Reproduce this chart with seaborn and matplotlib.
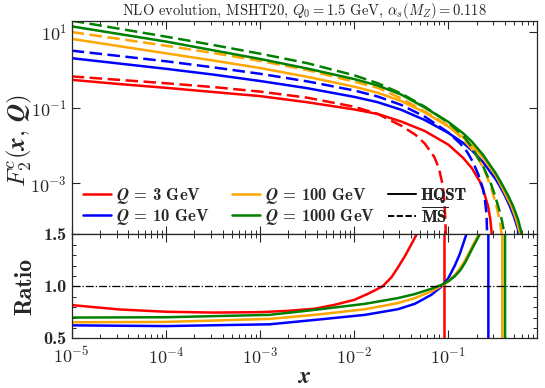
import pandas as pd
import matplotlib
matplotlib.use("Agg")
import matplotlib.pyplot as plt
import seaborn as sns
from matplotlib.lines import Line2D
from matplotlib.ticker import FixedLocator, FixedFormatter, MultipleLocator, LogLocator, NullLocator

# ---- top panel: F2c(x, Q), HQST (solid) vs MSbar (dashed)
x_grid = [1e-5, 3.16e-5, 1e-4, 3.16e-4, 1e-3, 3.16e-3, 0.01, 0.0178, 0.0316, 0.0562, 0.1]

x_q3_hqst = x_grid + [0.1435, 0.178, 0.216, 0.240, 0.264, 0.279, 0.288, 0.295]
f2_q3_hqst = [0.537, 0.417, 0.331, 0.257, 0.200, 0.138, 0.0891, 0.0676, 0.0427, 0.0240, 0.0105,
              4.7e-3, 2.5e-3, 1.12e-3, 5.6e-4, 2.5e-4, 1.12e-4, 5.0e-5, 1e-6]
x_q3_msbar = x_grid[:9] + [0.0447, 0.0562, 0.0708, 0.0794, 0.0871, 0.0902, 0.0923, 0.0938, 0.0951]
f2_q3_msbar = [0.661, 0.537, 0.437, 0.347, 0.263, 0.182, 0.105, 0.0676, 0.0331,
               0.0191, 0.0112, 5.0e-3, 2.5e-3, 8.9e-4, 4.0e-4, 1.58e-4, 5.0e-5, 1e-6]

x_q10_hqst = x_grid + [0.1435, 0.178, 0.234, 0.316, 0.352, 0.398, 0.45, 0.501, 0.55, 0.575]
f2_q10_hqst = [2.0, 1.45, 1.05, 0.741, 0.501, 0.324, 0.191, 0.138, 0.0871, 0.0468, 0.0214,
               0.0117, 7.4e-3, 3.6e-3, 1.32e-3, 8.5e-4, 4.8e-4, 2.5e-4, 1.26e-4, 6.0e-5, 1e-6]
x_q10_msbar = x_grid + [0.1324, 0.158, 0.184, 0.209, 0.234, 0.245, 0.254, 0.258, 0.261]
f2_q10_msbar = [3.16, 2.29, 1.66, 1.15, 0.776, 0.490, 0.282, 0.195, 0.117, 0.0575, 0.0219,
                0.0115, 6.8e-3, 3.5e-3, 1.66e-3, 7.1e-4, 3.5e-4, 1.58e-4, 5.0e-5, 1e-6]

x_q100_hqst = x_grid + [0.1435, 0.178, 0.234, 0.316, 0.352, 0.407, 0.468, 0.525, 0.574, 0.603]
f2_q100_hqst = [6.46, 4.17, 2.69, 1.74, 1.10, 0.646, 0.355, 0.245, 0.148, 0.0741, 0.0316,
                0.0162, 0.0100, 4.7e-3, 1.66e-3, 1.02e-3, 5.0e-4, 2.5e-4, 1.12e-4, 5.0e-5, 1e-6]
x_q100_msbar = x_grid + [0.1435, 0.178, 0.216, 0.251, 0.287, 0.316, 0.338, 0.355, 0.366, 0.372]
f2_q100_msbar = [9.77, 6.46, 4.27, 2.75, 1.70, 0.977, 0.479, 0.331, 0.174, 0.0794, 0.0331,
                 0.0145, 7.9e-3, 3.8e-3, 1.78e-3, 7.1e-4, 3.2e-4, 1.58e-4, 8.9e-5, 5.0e-5, 1e-6]

x_q1000_hqst = x_grid + [0.1435, 0.178, 0.234, 0.316, 0.366, 0.427, 0.488, 0.55, 0.597, 0.631]
f2_q1000_hqst = [13.8, 8.71, 5.50, 3.24, 1.91, 1.07, 0.562, 0.380, 0.219, 0.100, 0.0417,
                 0.0209, 0.0126, 5.6e-3, 1.9e-3, 1.02e-3, 5.0e-4, 2.5e-4, 1.12e-4, 5.0e-5, 1e-6]
x_q1000_msbar = x_grid + [0.1435, 0.178, 0.234, 0.282, 0.311, 0.347, 0.372, 0.398, 0.407]
f2_q1000_msbar = [19.5, 12.0, 7.41, 4.47, 2.63, 1.48, 0.708, 0.437, 0.234, 0.105, 0.0398,
                  0.0182, 8.9e-3, 2.8e-3, 1.0e-3, 5.0e-4, 2.0e-4, 1.0e-4, 4.0e-5, 1e-6]

# ---- bottom panel: ratio HQST / MSbar
x_ratio_q3 = [1e-5, 2e-5, 3.2e-5, 1e-4, 3.2e-4, 1e-3, 2e-3, 3.8e-3, 6e-3, 0.01, 0.0141, 0.02,
              0.025, 0.0295, 0.035, 0.041, 0.046, 0.05, 0.0905, 0.0915]
ratio_q3 = [0.82, 0.795, 0.778, 0.756, 0.748, 0.752, 0.765, 0.785, 0.82, 0.87, 0.93, 1.0,
            1.09, 1.19, 1.30, 1.415, 1.5, 1.58, 40, -40]
x_ratio_q10 = [1e-5, 1e-4, 1.26e-3, 3.8e-3, 0.013, 0.029, 0.044, 0.066, 0.085, 0.1, 0.117,
               0.132, 0.145, 0.155, 0.17, 0.265, 0.267]
ratio_q10 = [0.625, 0.618, 0.635, 0.677, 0.726, 0.78, 0.832, 0.919, 1.0, 1.08, 1.2,
             1.31, 1.42, 1.5, 1.7, 40, -40]
x_ratio_q100 = [1e-5, 1e-4, 1.26e-3, 3.8e-3, 0.013, 0.029, 0.044, 0.066, 0.085, 0.1, 0.117,
                0.132, 0.15, 0.165, 0.183, 0.21, 0.23, 0.373, 0.375]
ratio_q100 = [0.655, 0.658, 0.687, 0.726, 0.78, 0.839, 0.887, 0.952, 1.006, 1.05, 1.11,
              1.17, 1.25, 1.32, 1.40, 1.5, 1.6, 40, -40]
x_ratio_q1000 = [1e-5, 1e-4, 1.26e-3, 3.8e-3, 0.013, 0.029, 0.044, 0.066, 0.085, 0.1, 0.117,
                 0.135, 0.15, 0.165, 0.183, 0.215, 0.235, 0.399, 0.401]
ratio_q1000 = [0.70, 0.703, 0.726, 0.774, 0.832, 0.887, 0.926, 0.977, 1.016, 1.05, 1.097,
               1.16, 1.226, 1.30, 1.38, 1.5, 1.6, 40, -40]

q_labels = ["3", "10", "100", "1000"]
q_colors = ["red", "blue", "orange", "green"]
x_ticks = [1e-5, 1e-4, 1e-3, 1e-2, 1e-1]
x_tick_labels = [r"$\mathbf{10^{-5}}$", r"$\mathbf{10^{-4}}$", r"$\mathbf{10^{-3}}$",
                 r"$\mathbf{10^{-2}}$", r"$\mathbf{10^{-1}}$"]
y_ticks_top = [1e-3, 1e-1, 1e1]
y_tick_labels_top = [r"$\mathbf{10^{-3}}$", r"$\mathbf{10^{-1}}$", r"$\mathbf{10^{1}}$"]
y_ticks_ratio = [0.5, 1.0, 1.5]
y_tick_labels_ratio = ["0.5", "1.0", "1.5"]

# long-form tables for seaborn
curves = [
    ("3", "HQST", x_q3_hqst, f2_q3_hqst), ("3", "MSbar", x_q3_msbar, f2_q3_msbar),
    ("10", "HQST", x_q10_hqst, f2_q10_hqst), ("10", "MSbar", x_q10_msbar, f2_q10_msbar),
    ("100", "HQST", x_q100_hqst, f2_q100_hqst), ("100", "MSbar", x_q100_msbar, f2_q100_msbar),
    ("1000", "HQST", x_q1000_hqst, f2_q1000_hqst), ("1000", "MSbar", x_q1000_msbar, f2_q1000_msbar),
]
rows = []
for q, scheme, xs, ys in curves:
    for xv, yv in zip(xs, ys):
        rows.append({"Q": q, "scheme": scheme, "x": xv, "F2": yv})
df_top = pd.DataFrame(rows)

ratios = [("3", x_ratio_q3, ratio_q3), ("10", x_ratio_q10, ratio_q10),
          ("100", x_ratio_q100, ratio_q100), ("1000", x_ratio_q1000, ratio_q1000)]
rows = []
for q, xs, ys in ratios:
    for xv, yv in zip(xs, ys):
        rows.append({"Q": q, "x": xv, "ratio": yv})
df_ratio = pd.DataFrame(rows)

sns.set_style("ticks")
plt.rcParams["font.family"] = ["cmb10", "DejaVu Serif"]
plt.rcParams["mathtext.fontset"] = "cm"
plt.rcParams["axes.unicode_minus"] = False
plt.rcParams["axes.linewidth"] = 0.9

palette = dict(zip(q_labels, q_colors))

fig = plt.figure(figsize=(5.45, 3.88), dpi=100)
gs = fig.add_gridspec(2, 1, height_ratios=[214, 104], hspace=0,
                      left=0.1316, right=0.985, top=0.9467, bottom=0.128)
ax = fig.add_subplot(gs[0])
axr = fig.add_subplot(gs[1], sharex=ax)
ax.set_xscale("log")
ax.set_yscale("log")

sns.lineplot(data=df_top, x="x", y="F2", hue="Q", style="scheme", hue_order=q_labels,
             palette=palette, dashes={"HQST": "", "MSbar": (5, 2.2)},
             estimator=None, sort=False, lw=1.8, legend=False, ax=ax)
sns.lineplot(data=df_ratio, x="x", y="ratio", hue="Q", hue_order=q_labels,
             palette=palette, estimator=None, sort=False, lw=1.8, legend=False, ax=axr)
axr.axhline(1.0, color="black", lw=0.9, ls="-.")

ax.set_xlim(1e-5, 0.87)
ax.set_ylim(4.5e-5, 19.5)
axr.set_ylim(0.5, 1.5)

# ticks
for a in (ax, axr):
    a.tick_params(which="both", direction="in", top=True, right=True)
    a.tick_params(which="major", length=6, width=0.8)
    a.tick_params(which="minor", length=3, width=0.7)
axr.xaxis.set_major_locator(FixedLocator(x_ticks))
axr.xaxis.set_major_formatter(FixedFormatter(x_tick_labels))
axr.xaxis.set_minor_locator(LogLocator(base=10, subs=range(2, 10), numticks=20))
ax.yaxis.set_major_locator(FixedLocator(y_ticks_top))
ax.yaxis.set_major_formatter(FixedFormatter(y_tick_labels_top))
ax.yaxis.set_minor_locator(NullLocator())
axr.yaxis.set_major_locator(FixedLocator(y_ticks_ratio))
axr.yaxis.set_major_formatter(FixedFormatter(y_tick_labels_ratio))
axr.yaxis.set_minor_locator(MultipleLocator(0.1))
ax.tick_params(labelbottom=False, labelsize=13)
axr.tick_params(labelsize=13)
axr.tick_params(axis="x", pad=5)

ax.set_xlabel("")
ax.set_ylabel(r"$\boldsymbol{F_2^c(x,\, Q)}$", fontsize=18)
ax.yaxis.set_label_coords(-0.082, 0.44)
axr.set_ylabel("Ratio", fontsize=17)
axr.yaxis.set_label_coords(-0.077, 0.5)
axr.set_xlabel(r"$\boldsymbol{x}$", fontsize=17, labelpad=0)
ax.set_title(r"NLO evolution, MSHT20, $Q_0 = 1.5$ GeV, $\alpha_s(M_Z) = 0.118$",
             fontsize=10.5, fontfamily="cmr10", pad=4)

# legend: three columns placed like the original
q_handles = [Line2D([], [], color=c, lw=1.8) for c in q_colors]
q_texts = [r"$\boldsymbol{Q}$ = %s GeV" % q for q in q_labels]
scheme_handles = [Line2D([], [], color="black", lw=1.2),
                  Line2D([], [], color="black", lw=1.2, ls="--")]
scheme_texts = ["HQST", r"$\overline{\mathrm{\mathbf{MS}}}$"]
groups = [(q_handles[:2], q_texts[:2], 0.024), (q_handles[2:], q_texts[2:], 0.345),
          (scheme_handles, scheme_texts, 0.68)]
for hs, ts, x0 in groups:
    leg = ax.legend(hs, ts, loc="center left", bbox_to_anchor=(x0, 0.131), frameon=False,
                    fontsize=12, handlelength=1.67, labelspacing=0.1, handletextpad=0.3,
                    borderpad=0, borderaxespad=0)
    ax.add_artist(leg)

fig.savefig("out.png", dpi=100)
